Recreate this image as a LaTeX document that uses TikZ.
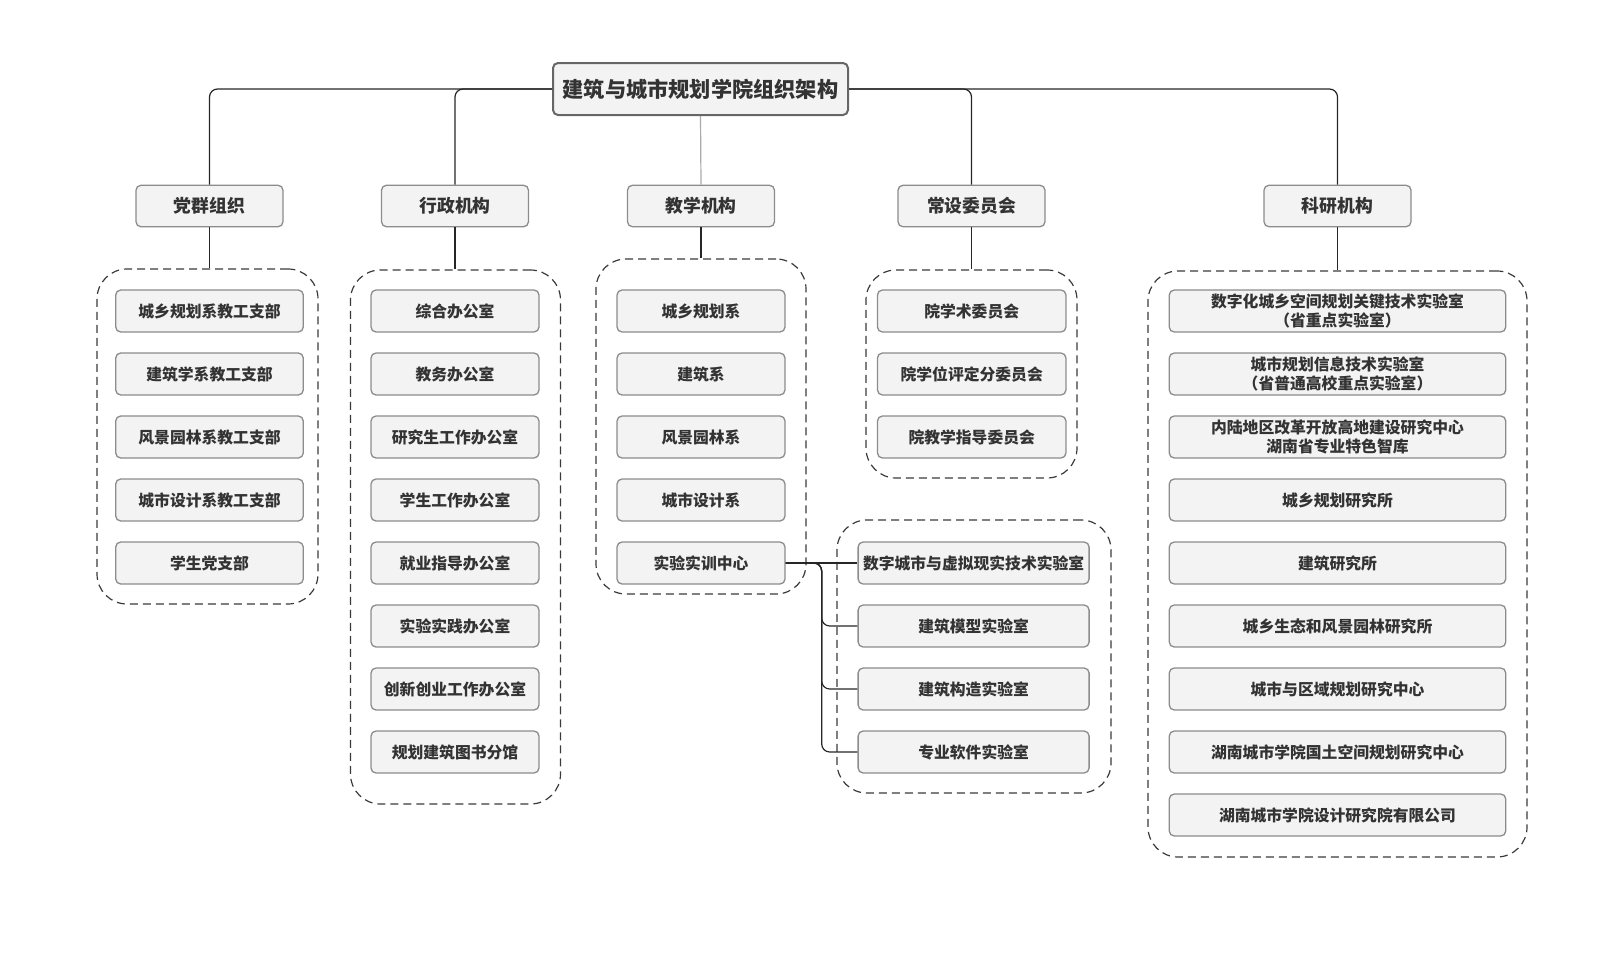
\documentclass[tikz,border=0pt]{standalone}
\usepackage{fontspec}
\setmainfont{Noto Sans CJK SC}
\definecolor{boxfill}{HTML}{F3F3F3}
\definecolor{boxline}{HTML}{8C8C8C}
\definecolor{titleline}{HTML}{666666}
\definecolor{txt}{HTML}{333333}
\definecolor{grpline}{HTML}{3A3A3A}
\definecolor{midline}{HTML}{AAAAAA}
\tikzset{
  x=1pt, y=-1pt,
  base/.style={draw=boxline, line width=1.3pt, fill=boxfill, rounded corners=5pt, inner sep=0pt, text=txt, font=\bfseries\fontsize{15.8}{19.5}\selectfont, align=center},
  titlebox/.style={base, draw=titleline, line width=2pt, minimum width=295pt, minimum height=52pt, font=\bfseries\fontsize{21.2}{25}\selectfont},
  lvone/.style={base, minimum width=147pt, minimum height=41.5pt, font=\bfseries\fontsize{17.8}{21}\selectfont},
  leaf/.style={base, minimum height=42pt},
  grp/.style={draw=grpline, line width=1.2pt, dash pattern=on 8pt off 5pt, rounded corners=30pt, inner sep=0pt},
  conn/.style={draw=black!85, line width=1.2pt, rounded corners=8pt},
}
\begin{document}
\begin{tikzpicture}
\useasboundingbox (0,0) rectangle (1598,956);
% groups
\node[grp, minimum width=221pt, minimum height=335pt] (g1) at (207.5,436.5) {};
\node[grp, minimum width=210pt, minimum height=534pt] (g2) at (455.5,537) {};
\node[grp, minimum width=210pt, minimum height=335pt] (g3) at (701,426.5) {};
\node[grp, minimum width=211pt, minimum height=208pt] (g4) at (971.5,374) {};
\node[grp, minimum width=274pt, minimum height=273pt] (g5) at (974,656.5) {};
\node[grp, minimum width=379pt, minimum height=586pt] (g6) at (1337.5,564) {};
% title and level one
\node[titlebox] (t) at (700.5,89) {建筑与城市规划学院组织架构};
\node[lvone] (p1) at (209.5,206) {党群组织};
\node[lvone] (p2) at (455,206) {行政机构};
\node[lvone] (p3) at (701,206) {教学机构};
\node[lvone] (p4) at (971.5,206) {常设委员会};
\node[lvone] (p5) at (1337.5,206) {科研机构};
% column 1
\node[leaf, minimum width=187.6pt] (a0) at (209.5,311) {城乡规划系教工支部};
\node[leaf, minimum width=187.6pt] (a1) at (209.5,374) {建筑学系教工支部};
\node[leaf, minimum width=187.6pt] (a2) at (209.5,437) {风景园林系教工支部};
\node[leaf, minimum width=187.6pt] (a3) at (209.5,500) {城市设计系教工支部};
\node[leaf, minimum width=187.6pt] (a4) at (209.5,563) {学生党支部};
% column 2
\node[leaf, minimum width=168pt] (b0) at (455,311) {综合办公室};
\node[leaf, minimum width=168pt] (b1) at (455,374) {教务办公室};
\node[leaf, minimum width=168pt] (b2) at (455,437) {研究生工作办公室};
\node[leaf, minimum width=168pt] (b3) at (455,500) {学生工作办公室};
\node[leaf, minimum width=168pt] (b4) at (455,563) {就业指导办公室};
\node[leaf, minimum width=168pt] (b5) at (455,626) {实验实践办公室};
\node[leaf, minimum width=168pt] (b6) at (455,689) {创新创业工作办公室};
\node[leaf, minimum width=168pt] (b7) at (455,752) {规划建筑图书分馆};
% column 3
\node[leaf, minimum width=168pt] (c0) at (701,311) {城乡规划系};
\node[leaf, minimum width=168pt] (c1) at (701,374) {建筑系};
\node[leaf, minimum width=168pt] (c2) at (701,437) {风景园林系};
\node[leaf, minimum width=168pt] (c3) at (701,500) {城市设计系};
\node[leaf, minimum width=168pt] (c4) at (701,563) {实验实训中心};
% column 4
\node[leaf, minimum width=188.5pt] (d0) at (971.7,311) {院学术委员会};
\node[leaf, minimum width=188.5pt] (d1) at (971.7,374) {院学位评定分委员会};
\node[leaf, minimum width=188.5pt] (d2) at (971.7,437) {院教学指导委员会};
% labs
\node[leaf, minimum width=231pt] (e0) at (973.6,563) {数字城市与虚拟现实技术实验室};
\node[leaf, minimum width=231pt] (e1) at (973.6,626) {建筑模型实验室};
\node[leaf, minimum width=231pt] (e2) at (973.6,689) {建筑构造实验室};
\node[leaf, minimum width=231pt] (e3) at (973.6,752) {专业软件实验室};
% column 5
\node[leaf, minimum width=336.5pt] (f0) at (1337.5,311) {数字化城乡空间规划关键技术实验室\\（省重点实验室）};
\node[leaf, minimum width=336.5pt] (f1) at (1337.5,374) {城市规划信息技术实验室\\（省普通高校重点实验室）};
\node[leaf, minimum width=336.5pt] (f2) at (1337.5,437) {内陆地区改革开放高地建设研究中心\\湖南省专业特色智库};
\node[leaf, minimum width=336.5pt] (f3) at (1337.5,500) {城乡规划研究所};
\node[leaf, minimum width=336.5pt] (f4) at (1337.5,563) {建筑研究所};
\node[leaf, minimum width=336.5pt] (f5) at (1337.5,626) {城乡生态和风景园林研究所};
\node[leaf, minimum width=336.5pt] (f6) at (1337.5,689) {城市与区域规划研究中心};
\node[leaf, minimum width=336.5pt] (f7) at (1337.5,752) {湖南城市学院国土空间规划研究中心};
\node[leaf, minimum width=336.5pt] (f8) at (1337.5,815) {湖南城市学院设计研究院有限公司};
% connectors from title
\draw[conn] (t.west) -| (p1.north);
\draw[conn] (t.west) -| (p2.north);
\draw[conn, draw=midline] (t.south) -- (p3.north);
\draw[conn] (t.east) -| (p4.north);
\draw[conn] (t.east) -| (p5.north);
% level one to groups
\draw[conn] (p1.south) -- (p1.south |- g1.north);
\draw[conn] (p2.south) -- (p2.south |- g2.north);
\draw[conn] (p3.south) -- (p3.south |- g3.north);
\draw[conn] (p4.south) -- (p4.south |- g4.north);
\draw[conn] (p5.south) -- (p5.south |- g6.north);
% lab branch
\coordinate (br) at (821.7,563);
\draw[conn] (c4.east) -- (e0.west);
\draw[conn] (c4.east) -- (br) |- (e1.west);
\draw[conn] (c4.east) -- (br) |- (e2.west);
\draw[conn] (c4.east) -- (br) |- (e3.west);
\end{tikzpicture}
\end{document}
